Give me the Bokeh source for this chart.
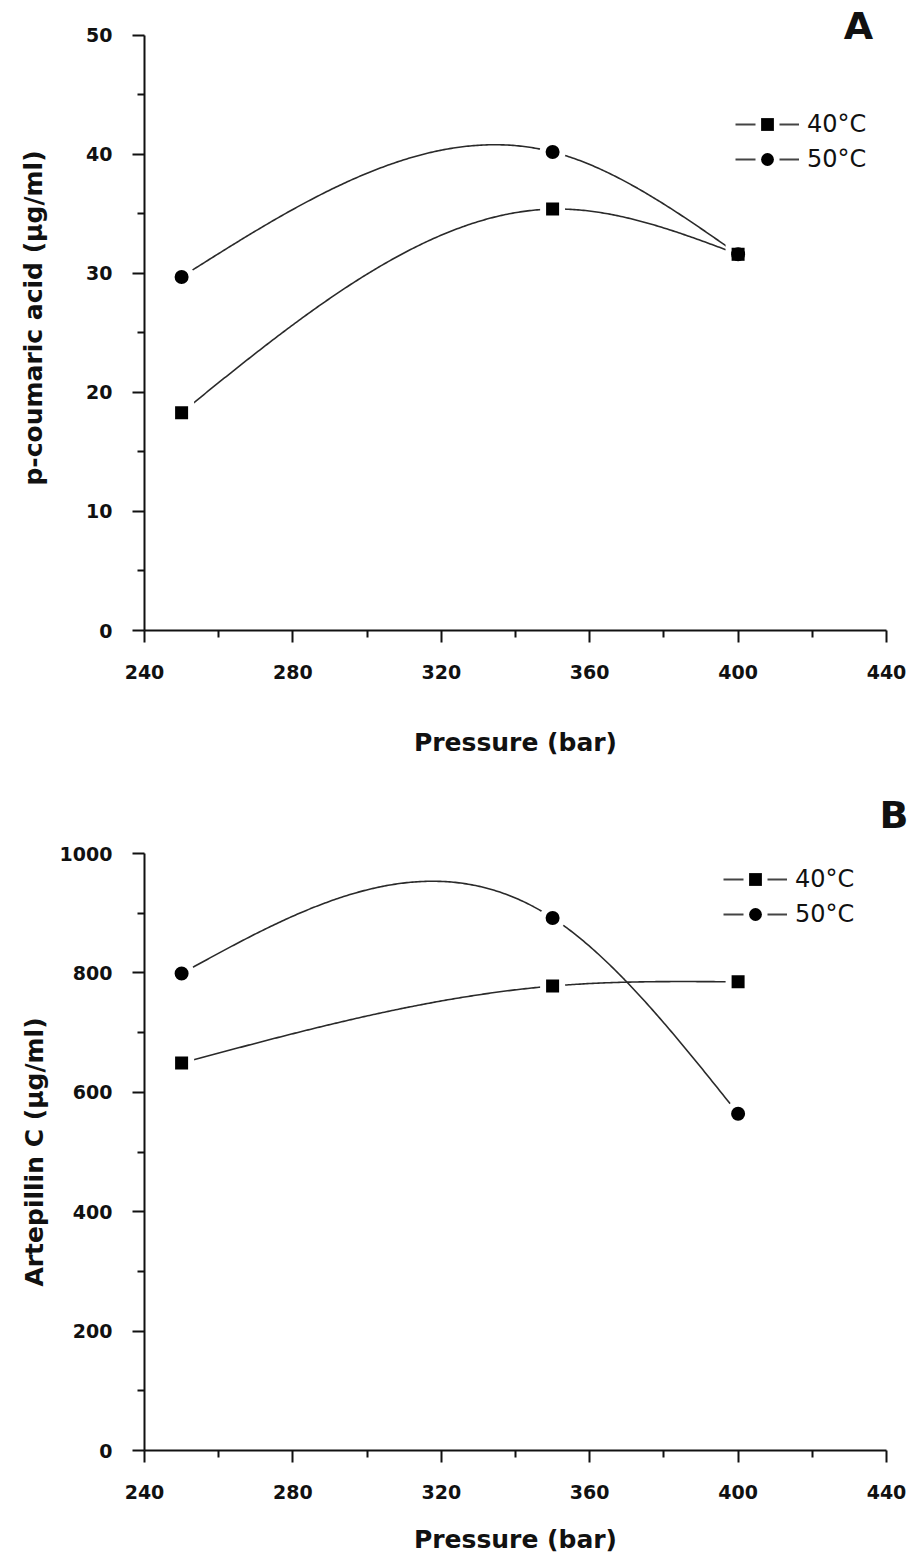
import numpy as np
from bokeh.plotting import figure
from bokeh.models import Range1d, FixedTicker, Legend, LegendItem, Label
from bokeh.layouts import column
from bokeh.embed import file_html
from bokeh.resources import INLINE

# ---------------- data ----------------
pressure = [250, 350, 400]
A_40 = [18.3, 35.4, 31.6]
A_50 = [29.7, 40.2, 31.6]
B_40 = [649, 778, 785]
B_50 = [799, 892, 564]
series_labels = ["40°C", "50°C"]

x_ticks = [240, 280, 320, 360, 400, 440]
x_minor = [260, 300, 340, 380, 420]
A_ticks = [0, 10, 20, 30, 40, 50]
A_minor = [5, 15, 25, 35, 45]
B_ticks = [0, 200, 400, 600, 800, 1000]
B_minor = [100, 300, 500, 700, 900]

FONT = "DejaVu Sans"
INK = "#111111"
LINE = "#2a2a2a"


def natural_spline(xs, ys, num=300):
    x = np.asarray(xs, float)
    y = np.asarray(ys, float)
    n = len(x)
    h = np.diff(x)
    A = np.zeros((n, n))
    r = np.zeros(n)
    A[0, 0] = 1
    A[-1, -1] = 1
    for i in range(1, n - 1):
        A[i, i - 1] = h[i - 1]
        A[i, i] = 2 * (h[i - 1] + h[i])
        A[i, i + 1] = h[i]
        r[i] = 6 * ((y[i + 1] - y[i]) / h[i] - (y[i] - y[i - 1]) / h[i - 1])
    M = np.linalg.solve(A, r)
    xx = np.linspace(x[0], x[-1], num)
    idx = np.clip(np.searchsorted(x, xx) - 1, 0, n - 2)
    x0, x1, hh = x[idx], x[idx + 1], h[idx]
    M0, M1, y0, y1 = M[idx], M[idx + 1], y[idx], y[idx + 1]
    yy = (M0 * (x1 - xx) ** 3 / (6 * hh) + M1 * (xx - x0) ** 3 / (6 * hh)
          + (y0 / hh - M0 * hh / 6) * (x1 - xx) + (y1 / hh - M1 * hh / 6) * (xx - x0))
    return xx, yy


def style_axis(ax):
    ax.axis_line_color = INK
    ax.axis_line_width = 2
    ax.major_tick_line_color = INK
    ax.major_tick_line_width = 2
    ax.minor_tick_line_color = INK
    ax.minor_tick_line_width = 2
    ax.major_tick_in = 0
    ax.major_tick_out = 12
    ax.minor_tick_in = 0
    ax.minor_tick_out = 7
    ax.major_label_text_font = FONT
    ax.major_label_text_font_style = "bold"
    ax.major_label_text_font_size = "19px"
    ax.major_label_text_color = INK
    ax.axis_label_text_font = FONT
    ax.axis_label_text_font_style = "bold"
    ax.axis_label_text_font_size = "25px"
    ax.axis_label_text_color = INK


def make_panel(height, top, bottom, y_end, y_bound, y_ticks, y_minor,
               ylabel, s40, s50, legend_loc, ylabel_standoff, xlabel_standoff):
    p = figure(width=912, height=height,
               x_range=Range1d(240, 440), y_range=Range1d(0, y_end),
               output_backend="svg", toolbar_location=None,
               min_border_left=144, min_border_right=26,
               min_border_top=top, min_border_bottom=bottom)
    p.xgrid.visible = False
    p.ygrid.visible = False
    p.outline_line_color = None
    p.background_fill_color = "white"
    p.border_fill_color = "white"

    p.xaxis.ticker = FixedTicker(ticks=x_ticks, minor_ticks=x_minor)
    p.yaxis.ticker = FixedTicker(ticks=y_ticks, minor_ticks=y_minor)
    p.yaxis.bounds = (0, y_bound)
    for ax in (p.xaxis[0], p.yaxis[0]):
        style_axis(ax)
    p.xaxis.axis_label = "Pressure (bar)"
    p.yaxis.axis_label = ylabel
    p.xaxis.major_label_standoff = 22
    p.yaxis.major_label_standoff = 20
    p.xaxis.axis_label_standoff = xlabel_standoff
    p.yaxis.axis_label_standoff = ylabel_standoff

    # smooth curves
    x40, y40 = natural_spline(pressure, s40)
    x50, y50 = natural_spline(pressure, s50)
    p.line(x50, y50, line_color=LINE, line_width=1.6)
    p.line(x40, y40, line_color=LINE, line_width=1.6)
    # white halos so lines stop short of the markers
    p.scatter(pressure, s50, marker="circle", size=26, fill_color="white", line_color=None)
    p.scatter(pressure, s40, marker="square", size=25, fill_color="white", line_color=None)
    m50 = p.scatter(pressure, s50, marker="circle", size=14, fill_color="black", line_color=None)
    m40 = p.scatter(pressure, s40, marker="square", size=13, fill_color="black", line_color=None)

    # legend pieces: dashed line gives the gap around the marker
    d40 = p.line(np.array([np.nan]), np.array([np.nan]), line_color="#444444",
                 line_width=2, line_dash="20 24")
    d50 = p.line(np.array([np.nan]), np.array([np.nan]), line_color="#444444",
                 line_width=2, line_dash="20 24")
    legend = Legend(items=[LegendItem(label=series_labels[0], renderers=[d40, m40]),
                           LegendItem(label=series_labels[1], renderers=[d50, m50])],
                    location=legend_loc, glyph_width=64, glyph_height=32,
                    label_height=32, label_standoff=8, spacing=3, padding=0, margin=0,
                    border_line_color=None, background_fill_alpha=0,
                    label_text_font=FONT, label_text_font_size="24px",
                    label_text_color=INK, inactive_fill_alpha=0)
    p.add_layout(legend)
    return p


pA = make_panel(773, 5, 143, 52.5, 50, A_ticks, A_minor,
                "p-coumaric acid (μg/ml)", A_40, A_50, (591, 455), 35, 46)
pA.add_layout(Label(x=714, y=605, x_units="screen", y_units="screen",
                    text="A", text_font=FONT, text_font_style="bold",
                    text_font_size="38px", text_color=INK,
                    text_align="center", text_baseline="alphabetic"))

pB = make_panel(789, 80, 112, 1000, 1000, B_ticks, B_minor,
                "Artepillin C (μg/ml)", B_40, B_50, (579, 520), 8, 23)
pB.title.text = "B"
pB.title.align = "right"
pB.title.offset = -22
pB.title.standoff = 34
pB.title.text_font = FONT
pB.title.text_font_style = "bold"
pB.title.text_font_size = "38px"
pB.title.text_color = INK

layout = column(pA, pB, spacing=0)
open("out.html", "w").write(file_html(layout, INLINE))
